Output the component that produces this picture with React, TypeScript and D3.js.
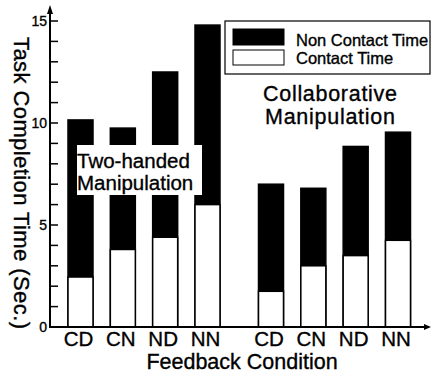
import * as d3 from 'd3'

const conditions = ['CD', 'CN', 'ND', 'NN']
const groups = ['Two-handed Manipulation', 'Collaborative Manipulation']
// total time per group, per condition
const totalTime = [
  [10.15, 9.75, 12.5, 14.8],
  [7.0, 6.8, 8.85, 9.55],
]
const contactTime = [
  [2.45, 3.8, 4.4, 6.0],
  [1.75, 3.0, 3.5, 4.25],
]
const yLabels = [0, 5, 10, 15]

const W = 431
const H = 372
const font = '"Liberation Sans", Arial, Helvetica, sans-serif'

export default function App() {
  const y = d3.scaleLinear().domain([0, 15]).range([327, 21])
  const x = d3.scaleLinear().domain([0, 7.5]).range([80.5, 398])
  const barW = 25
  const x0 = 50
  const yTicks = d3.range(0, 16)

  const bars = groups.flatMap((g, gi) =>
    conditions.map((c, ci) => ({
      key: `${gi}-${c}`,
      cond: c,
      slot: gi * 4.5 + ci,
      total: totalTime[gi][ci],
      contact: contactTime[gi][ci],
    }))
  )

  const txt = { stroke: '#000', strokeWidth: 0.35 }

  return (
    <svg
      width={W}
      height={H}
      style={{ position: 'absolute', left: 0, top: 0, background: '#fff' }}
      fontFamily={font}
    >
      <rect width={W} height={H} fill="#fff" />

      {bars.map(b => (
        <g key={b.key}>
          <rect
            x={x(b.slot) - barW / 2}
            y={y(b.total)}
            width={barW}
            height={y(0) - y(b.total)}
            fill="#000"
            stroke="#000"
            strokeWidth={1.5}
          />
          <rect
            x={x(b.slot) - barW / 2}
            y={y(b.contact)}
            width={barW}
            height={y(0) - y(b.contact)}
            fill="#fff"
            stroke="#000"
            strokeWidth={1.5}
          />
          <text x={x(b.slot) - 2} y={345.5} fontSize={20.5} textAnchor="middle" {...txt}>
            {b.cond}
          </text>
        </g>
      ))}

      {/* y axis */}
      <line x1={x0} x2={x0} y1={y(0) + 1} y2={12} stroke="#000" strokeWidth={2} />
      <path d={`M${x0 - 3},${14} L${x0},${5} L${x0 + 3},${14} Z`} fill="#000" />
      {yTicks.map(t => (
        <line key={t} x1={x0} x2={x0 + 8} y1={y(t)} y2={y(t)} stroke="#000" strokeWidth={1.5} />
      ))}
      {yLabels.map(t => (
        <text key={t} x={x0 - 3} y={y(t) + 5} fontSize={14} textAnchor="end" {...txt}>
          {t}
        </text>
      ))}

      {/* x axis */}
      <line x1={x0} x2={426} y1={y(0)} y2={y(0)} stroke="#000" strokeWidth={2} />
      <path d={`M${424},${y(0) - 3} L${431},${y(0)} L${424},${y(0) + 3} Z`} fill="#000" />

      {/* group labels */}
      <rect x={77} y={145} width={125} height={50} fill="#fff" />
      <text x={77} y={168} fontSize={20.5} {...txt}>Two-handed</text>
      <text x={77} y={190} fontSize={20.5} {...txt}>Manipulation</text>
      <text x={330} y={100.5} fontSize={21.5} textAnchor="middle" textLength={134} {...txt}>Collaborative</text>
      <text x={330} y={123.5} fontSize={21.5} textAnchor="middle" textLength={130} {...txt}>Manipulation</text>

      {/* legend */}
      <rect x={225} y={21} width={205} height={53} fill="#fff" stroke="#000" strokeWidth={1.2} />
      <rect x={233} y={29} width={51} height={16} fill="#000" stroke="#000" />
      <rect x={233} y={50} width={51} height={15} fill="#fff" stroke="#000" />
      <text x={296} y={46} fontSize={16.5} {...txt}>Non Contact Time</text>
      <text x={296} y={64} fontSize={16.5} {...txt}>Contact Time</text>

      {/* axis titles */}
      <text x={242} y={368.5} fontSize={21.5} textAnchor="middle" {...txt}>Feedback Condition</text>
      <text
        transform={`translate(14,183) rotate(90)`}
        fontSize={22}
        textAnchor="middle"
        textLength={292}
        lengthAdjust="spacing"
        {...txt}
      >
        Task Completion Time (Sec.)
      </text>
    </svg>
  )
}
